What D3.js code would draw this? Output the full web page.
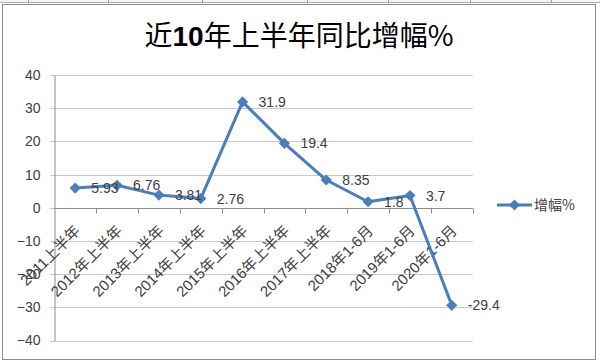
<!DOCTYPE html>
<html><head><meta charset="utf-8">
<script src="https://cdn.jsdelivr.net/npm/d3@7/dist/d3.min.js"></script>
<style>html,body{margin:0;padding:0;background:#fff;}svg{display:block;}</style>
</head><body>
<svg id="c" width="600" height="362"></svg>
<script>
const categories = ["2011上半年","2012年上半年","2013年上半年","2014年上半年","2015年上半年","2016年上半年","2017年上半年","2018年1-6月","2019年1-6月","2020年1-6月"];
const values = [5.93, 6.76, 3.81, 2.76, 31.9, 19.4, 8.35, 1.8, 3.7, -29.4];
const yTicks = [-40,-30,-20,-10,0,10,20,30,40];
const seriesName = "增幅%";
const titlePre = "近", titleBold = "10", titlePost = "年上半年同比增幅%";

const svg = d3.select("#c");
const blue = "#4a7ebb", txt = "#404040";
const font = "'Liberation Sans', Arial, 'Noto Sans CJK SC', sans-serif";

// spreadsheet strip on top
svg.append("rect").attr("x",0).attr("y",0).attr("width",600).attr("height",3).attr("fill","#f4f4f4");
svg.append("line").attr("x1",0).attr("x2",600).attr("y1",2.5).attr("y2",2.5).attr("stroke","#b0b0b0");
[28,108,202,307,388,470,551].forEach(v=>svg.append("line").attr("x1",v+.5).attr("x2",v+.5).attr("y1",0).attr("y2",3).attr("stroke","#9a9a9a"));
// chart frame
svg.append("rect").attr("x",2.5).attr("y",4.5).attr("width",593).attr("height",355).attr("fill","#fff").attr("stroke","#8c8c8c");

const x = d3.scaleBand().domain(categories).range([54.3,472.7]);
const y = d3.scaleLinear().domain([-40,40]).range([340.5,75]);

// gridlines
svg.append("g").selectAll("line").data(yTicks).join("line")
  .attr("x1",50).attr("x2",472.7).attr("y1",d=>Math.round(y(d))+.5).attr("y2",d=>Math.round(y(d))+.5)
  .attr("stroke","#c8c8c8");

// y axis
const ya = svg.append("g").attr("transform","translate(54.5,0)").call(d3.axisLeft(y).tickValues(yTicks).tickSize(0).tickPadding(14).tickFormat(d3.format("d")));
ya.select(".domain").attr("stroke","#8c8c8c");
ya.selectAll("text").attr("font-family",font).attr("font-size",14).attr("fill",txt);

// x axis at 0
const y0 = Math.round(y(0))+.5;
svg.append("line").attr("x1",54.3).attr("x2",472.7).attr("y1",y0).attr("y2",y0).attr("stroke","#8c8c8c");
const bounds = categories.map(c=>x(c)).concat([x.range()[1]]);
svg.append("g").selectAll("line").data(bounds.slice(1)).join("line")
  .attr("x1",d=>Math.round(d)+.5).attr("x2",d=>Math.round(d)+.5).attr("y1",y0).attr("y2",y0+5).attr("stroke","#8c8c8c");

// category labels
svg.append("g").selectAll("text").data(categories).join("text")
  .attr("transform",d=>`translate(${x(d)+x.bandwidth()/2+6},${y(0)+24}) rotate(-45)`)
  .attr("text-anchor","end").attr("font-family",font).attr("font-size",15).attr("fill",txt).text(d=>d);

// line
const cx = d=>x(d)+x.bandwidth()/2;
const pts = categories.map((c,i)=>[cx(c), y(values[i])]);
svg.append("path").attr("d",d3.line()(pts)).attr("fill","none").attr("stroke",blue).attr("stroke-width",3).attr("stroke-linejoin","round");
const sym = d3.symbol().type(d3.symbolSquare).size(62);
svg.append("g").selectAll("path").data(pts).join("path")
  .attr("transform",d=>`translate(${d[0]},${d[1]}) rotate(45)`).attr("d",sym).attr("fill",blue);

// data labels
svg.append("g").selectAll("text").data(pts).join("text")
  .attr("x",d=>d[0]+16).attr("y",d=>d[1]).attr("dy","0.36em")
  .attr("font-family",font).attr("font-size",14).attr("fill",txt).text((d,i)=>values[i]);

// legend
const lg = svg.append("g").attr("transform","translate(497,205)");
lg.append("line").attr("x1",0).attr("x2",35).attr("stroke",blue).attr("stroke-width",3);
lg.append("path").attr("transform","translate(17.5,0) rotate(45)").attr("d",sym).attr("fill",blue);
lg.append("text").attr("x",37).attr("dy","0.36em").attr("font-family","'Noto Sans CJK SC', sans-serif").attr("font-size",14).attr("fill",txt).text(seriesName);

// title
const t = svg.append("text").attr("x",299).attr("y",46).attr("text-anchor","middle")
  .attr("font-family","'Noto Sans CJK SC', 'Liberation Sans', sans-serif").attr("font-size",28).attr("fill","#000");
t.append("tspan").text(titlePre);
t.append("tspan").attr("font-weight","bold").attr("font-family","'Liberation Sans', sans-serif").text(titleBold);
t.append("tspan").text(titlePost);
</script>
</body></html>
